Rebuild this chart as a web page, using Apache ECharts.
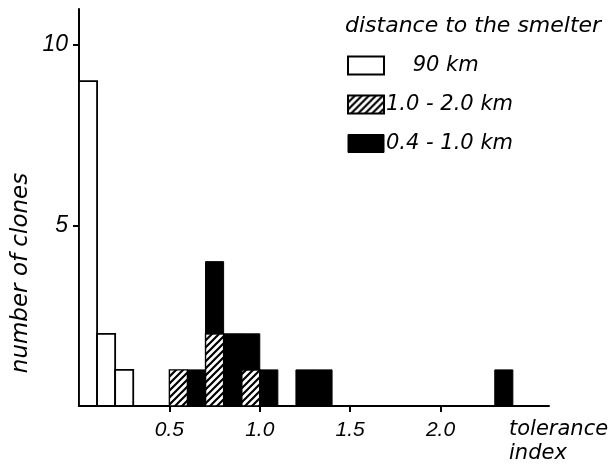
<!DOCTYPE html>
<html>
<head>
<meta charset="utf-8">
<script src="https://cdn.jsdelivr.net/npm/echarts@6/dist/echarts.min.js"></script>
<style>
html,body{margin:0;padding:0;background:#fff;}
#chart{width:612px;height:466px;}
</style>
</head>
<body>
<div id="chart"></div>
<script>
// ---- data (histogram bins, width 0.1 of tolerance index) ----
const binWidth = 0.1;
const seriesNames = ['90 km', '1.0 - 2.0 km', '0.4 - 1.0 km'];
const farBins = [0.0, 0.1, 0.2];          // 90 km
const farCounts = [9, 2, 1];
const midBins = [0.5, 0.7, 0.9];          // 1.0 - 2.0 km
const midCounts = [1, 2, 1];
const nearBins = [0.6, 0.7, 0.8, 0.9, 1.0, 1.2, 1.3, 2.3];   // 0.4 - 1.0 km
const nearCounts = [1, 2, 2, 1, 1, 1, 1, 1];
const xTickValues = [0.5, 1.0, 1.5, 2.0];
const yTickValues = [5, 10];
const legendTitle = 'distance to the smelter';
const xName = 'tolerance\nindex';
const yName = 'number of clones';

// hatch pattern
function makeHatch() {
  const s = 7;
  const c = document.createElement('canvas');
  c.width = s; c.height = s;
  const g = c.getContext('2d');
  g.fillStyle = '#fff';
  g.fillRect(0, 0, s, s);
  g.strokeStyle = '#000';
  g.lineWidth = 2.2;
  g.beginPath();
  g.moveTo(-1, s + 1); g.lineTo(s + 1, -1);
  g.moveTo(-1, 1); g.lineTo(1, -1);
  g.moveTo(s - 1, s + 1); g.lineTo(s + 1, s - 1);
  g.stroke();
  return c;
}
const hatch = { image: makeHatch(), repeat: 'repeat' };

// build rows [x0, x1, y0, y1]; near stacks on mid in shared bins
function rows(bins, counts, base) {
  return bins.map((b, i) => {
    const y0 = base ? (base[b.toFixed(1)] || 0) : 0;
    return [b, +(b + binWidth).toFixed(2), y0, y0 + counts[i]];
  });
}
const midMap = {};
midBins.forEach((b, i) => { midMap[b.toFixed(1)] = midCounts[i]; });

const fontWords = '"DejaVu Sans", sans-serif';
const fontNums = '"Liberation Sans", Arial, sans-serif';

function renderBar(fill, stroke, lw) {
  return function (params, api) {
    const p0 = api.coord([api.value(0), api.value(2)]);
    const p1 = api.coord([api.value(1), api.value(3)]);
    return {
      type: 'rect',
      shape: { x: p0[0], y: p1[1], width: p1[0] - p0[0], height: p0[1] - p1[1] },
      style: { fill: fill, stroke: stroke, lineWidth: lw }
    };
  };
}

const chart = echarts.init(document.getElementById('chart'), null, { renderer: 'canvas' });
chart.setOption({
  animation: false,
  backgroundColor: '#fff',
  title: {
    text: legendTitle,
    left: 340, top: 10,
    textStyle: { fontFamily: fontWords, fontStyle: 'italic', fontWeight: 'normal', fontSize: 22, color: '#000' }
  },
  legend: {
    orient: 'vertical',
    left: 342, top: 50,
    itemWidth: 36, itemHeight: 18, itemGap: 18,
    textStyle: { fontFamily: fontWords, fontStyle: 'italic', fontSize: 21, color: '#000', padding: [0, 0, 0, -3] },
    formatter: function (n) { return n === seriesNames[0] ? '    ' + n : n; },
    data: [
      { name: seriesNames[0], icon: 'rect', itemStyle: { color: '#fff', borderColor: '#000', borderWidth: 2 } },
      { name: seriesNames[1], icon: 'rect', itemStyle: { color: hatch, borderColor: '#000', borderWidth: 2 } },
      { name: seriesNames[2], icon: 'rect', itemStyle: { color: '#000', borderColor: '#000', borderWidth: 1 } }
    ]
  },
  grid: { left: 79, right: 63, top: 9, bottom: 57, containLabel: false },
  xAxis: {
    type: 'value', min: 0, max: 2.6, interval: 0.5,
    name: xName, nameLocation: 'end', nameGap: -40,
    nameTextStyle: { fontFamily: fontWords, fontStyle: 'italic', fontSize: 21, color: '#000', align: 'left', verticalAlign: 'top', lineHeight: 24, padding: [12, 0, 0, 0] },
    axisLine: { lineStyle: { color: '#000', width: 2 } },
    axisTick: { show: true, length: 6, lineStyle: { color: '#000', width: 2 }, customValues: xTickValues },
    axisLabel: { margin: 14, fontFamily: fontNums, fontStyle: 'italic', fontSize: 21, color: '#000', customValues: xTickValues, formatter: v => v.toFixed(1) },
    splitLine: { show: false }
  },
  yAxis: {
    type: 'value', min: 0, max: 11, interval: 5,
    axisLine: { show: true, lineStyle: { color: '#000', width: 2 } },
    axisTick: { show: true, length: 6, lineStyle: { color: '#000', width: 2 }, customValues: yTickValues },
    axisLabel: { margin: 11, fontFamily: fontNums, fontStyle: 'italic', fontSize: 23, color: '#000', customValues: yTickValues },
    splitLine: { show: false }
  },
  graphic: [{
    type: 'text',
    x: 21, y: 273,
    rotation: Math.PI / 2,
    style: { text: yName, font: 'italic 23px ' + fontWords, fill: '#000', align: 'center', verticalAlign: 'middle' }
  }],
  series: [
    {
      name: seriesNames[0], type: 'custom',
      itemStyle: { color: '#fff', borderColor: '#000' },
      encode: { x: [0, 1], y: [2, 3] },
      renderItem: renderBar('#fff', '#000', 1.8),
      data: rows(farBins, farCounts)
    },
    {
      name: seriesNames[1], type: 'custom',
      itemStyle: { color: hatch, borderColor: '#000' },
      encode: { x: [0, 1], y: [2, 3] },
      renderItem: renderBar(hatch, '#000', 1.4),
      data: rows(midBins, midCounts)
    },
    {
      name: seriesNames[2], type: 'custom',
      itemStyle: { color: '#000' },
      encode: { x: [0, 1], y: [2, 3] },
      renderItem: renderBar('#000', '#000', 1),
      data: rows(nearBins, nearCounts, midMap)
    }
  ]
});
</script>
</body>
</html>
